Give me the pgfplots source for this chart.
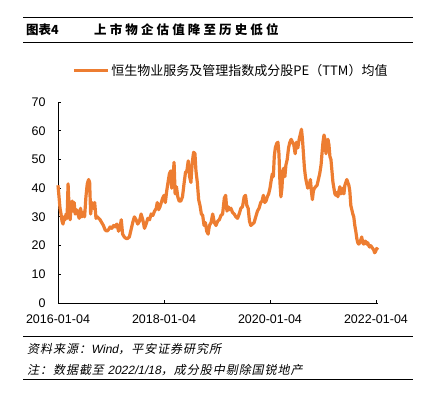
\documentclass[border=0pt]{standalone}
\usepackage{pgfplots}
\pgfplotsset{compat=1.18}
\usepackage{fontspec}
\setmainfont{Liberation Sans}
\newfontfamily\cjk{Noto Sans CJK SC}
\newfontfamily\cjkit[FakeSlant=0.2]{Noto Sans CJK SC}
\newfontfamily\libit[FakeSlant=0.2]{Liberation Sans}
\definecolor{lineorange}{HTML}{ED7D31}
\begin{document}
\begin{tikzpicture}[x=1pt,y=1pt]
\path[use as bounding box] (0,0) rectangle (427,-397);
% header rules and title
\draw[line width=1pt] (23,-17) -- (413,-17);
\draw[line width=1pt] (23,-42) -- (413,-42);
\node[anchor=west,inner sep=0] at (26,-30) {\cjk\bfseries\fontsize{12.5}{14}\selectfont 图表4};
\node[anchor=west,inner sep=0] at (94,-30) {\cjk\bfseries\fontsize{12.5}{14}\selectfont\addfontfeature{LetterSpace=25}上市物企估值降至历史低位};
\begin{axis}[
  at={(58pt,-303pt)}, anchor=south west,
  scale only axis, width=320.1pt, height=201pt,
  xmin=0, xmax=6.04, ymin=0, ymax=70,
  axis lines=left, axis line style={-, line width=0.8pt, black},
  xtick={0,2,4,6},
  xticklabels={2016-01-04,2018-01-04,2020-01-04,2022-01-04},
  ytick={0,10,...,70},
  tick align=inside, major tick length=3pt,
  tick style={black, line width=0.8pt},
  /pgf/number format/assume math mode=true,
  ticklabel style={font=\fontsize{12.5}{12.5}\selectfont},
  xticklabel style={yshift=-8pt},
  yticklabel style={xshift=-9pt},
  legend style={at={(axis description cs:0.044,1.157)}, anchor=west, draw=none, fill=none, inner sep=0pt,
    font=\cjk\fontsize{13}{13}\selectfont, nodes={inner sep=2pt}},
  legend cell align=left,
  legend image code/.code={\draw[#1] (0pt,0pt) -- (34pt,0pt);},
  clip=false,
]
\addplot[lineorange, line width=3.2pt, line join=round] coordinates {
(0.000,41) (0.019,37) (0.038,33) (0.057,31) (0.076,28.5) (0.095,27.5) (0.114,30) (0.133,29) (0.152,31) (0.171,29.5)
(0.190,41.5) (0.210,33) (0.229,29) (0.248,33.5) (0.267,35.5) (0.286,32) (0.305,35) (0.324,31) (0.349,32.5) (0.375,31)
(0.400,29.5) (0.425,33) (0.451,30) (0.476,31.5) (0.502,30) (0.527,37) (0.552,41.5) (0.578,43) (0.597,42) (0.616,31)
(0.641,35) (0.667,33) (0.692,35) (0.717,29.5) (0.743,30) (0.768,29.5) (0.794,29) (0.825,28) (0.857,27) (0.889,25.5)
(0.921,25) (0.952,25.5) (0.984,26.5) (1.016,26) (1.048,27) (1.079,26.5) (1.111,27.5) (1.143,25) (1.175,27) (1.194,29)
(1.219,24) (1.251,23) (1.283,22.5) (1.314,22.5) (1.346,23) (1.378,25.5) (1.410,28) (1.441,30) (1.473,29) (1.505,27.5)
(1.537,28.5) (1.568,31) (1.600,29) (1.632,26) (1.663,27.5) (1.695,29.5) (1.727,29) (1.759,31) (1.790,30.5) (1.822,32)
(1.854,33) (1.873,35) (1.898,32.5) (1.924,33.5) (1.949,35) (1.975,36.5) (2.000,37.5) (2.025,35) (2.051,39) (2.076,42)
(2.102,45) (2.127,46) (2.146,40) (2.171,44) (2.190,49) (2.210,38) (2.235,40.5) (2.260,37) (2.286,35.5) (2.317,35.5)
(2.349,37) (2.381,42) (2.406,45.5) (2.432,46) (2.457,49.5) (2.483,44) (2.508,42) (2.533,49) (2.559,52.5) (2.584,52)
(2.603,46) (2.629,42) (2.654,36) (2.679,34) (2.705,31) (2.730,30.5) (2.756,27) (2.781,28) (2.806,25) (2.832,24)
(2.857,27) (2.888,28) (2.919,31) (2.950,28) (2.981,27) (3.013,28.5) (3.044,29) (3.075,30.5) (3.106,31) (3.138,36.5)
(3.163,37.5) (3.188,32) (3.213,33.5) (3.238,32.5) (3.263,33) (3.294,31.5) (3.325,31) (3.356,30) (3.388,29.5) (3.419,31)
(3.450,33) (3.481,33.5) (3.513,37) (3.538,37.5) (3.563,34) (3.588,33) (3.613,28.5) (3.638,27) (3.669,27.5) (3.700,28)
(3.731,30) (3.763,32) (3.794,33) (3.825,35) (3.850,35.5) (3.875,37.5) (3.900,35) (3.925,35.5) (3.950,37) (3.975,38)
(4.000,40) (4.025,43) (4.044,45) (4.063,44) (4.081,51) (4.100,54) (4.125,55.5) (4.150,56) (4.169,52) (4.188,42)
(4.206,37) (4.225,40) (4.244,46) (4.263,47) (4.281,44) (4.300,48) (4.325,50) (4.350,54) (4.375,56) (4.400,57)
(4.425,56) (4.450,55) (4.475,52) (4.500,56) (4.525,54) (4.550,57) (4.575,59) (4.594,60.5) (4.613,57) (4.631,52)
(4.650,47) (4.669,44) (4.688,42) (4.713,40) (4.738,41) (4.763,43) (4.781,39) (4.800,36) (4.819,39) (4.838,40)
(4.863,40.5) (4.888,41) (4.913,43) (4.938,45) (4.963,48) (4.981,52) (5.000,56) (5.019,58.5) (5.038,57) (5.056,52)
(5.075,56) (5.094,57) (5.113,55) (5.131,51) (5.150,50) (5.169,46) (5.188,42) (5.206,40) (5.225,38) (5.244,37.5)
(5.263,38.5) (5.281,37) (5.300,39) (5.319,40.5) (5.338,38) (5.356,38.5) (5.375,40) (5.394,38) (5.413,41) (5.431,42)
(5.450,43) (5.469,42) (5.488,41) (5.506,39) (5.525,34) (5.544,32.5) (5.563,31) (5.581,30) (5.600,27) (5.619,25)
(5.638,22.5) (5.656,21) (5.675,20.5) (5.694,21) (5.713,22) (5.731,23) (5.750,21) (5.769,20.5) (5.788,21.5) (5.806,21.5)
(5.825,20.5) (5.844,21) (5.863,20) (5.881,19.5) (5.900,20) (5.919,19.5) (5.938,19) (5.956,18.5) (5.975,17.5) (5.994,18)
(6.013,19) (6.038,18.5)
};
\addlegendentry{恒生物业服务及管理指数成分股PE（TTM）均值}
\end{axis}
% footer
\draw[line width=1pt] (23,-336) -- (413,-336);
\node[anchor=west,inner sep=0] at (27,-349) {\cjkit\fontsize{12}{13}\selectfont\addfontfeature{LetterSpace=8}资料来源：{\libit Wind}，平安证券研究所};
\node[anchor=west,inner sep=0] at (27,-370) {\cjkit\fontsize{12}{13}\selectfont\addfontfeature{LetterSpace=8}注：数据截至 {\libit 2022/1/18}，成分股中剔除国锐地产};
\draw[line width=1pt] (23,-379) -- (413,-379);
\end{tikzpicture}
\end{document}
